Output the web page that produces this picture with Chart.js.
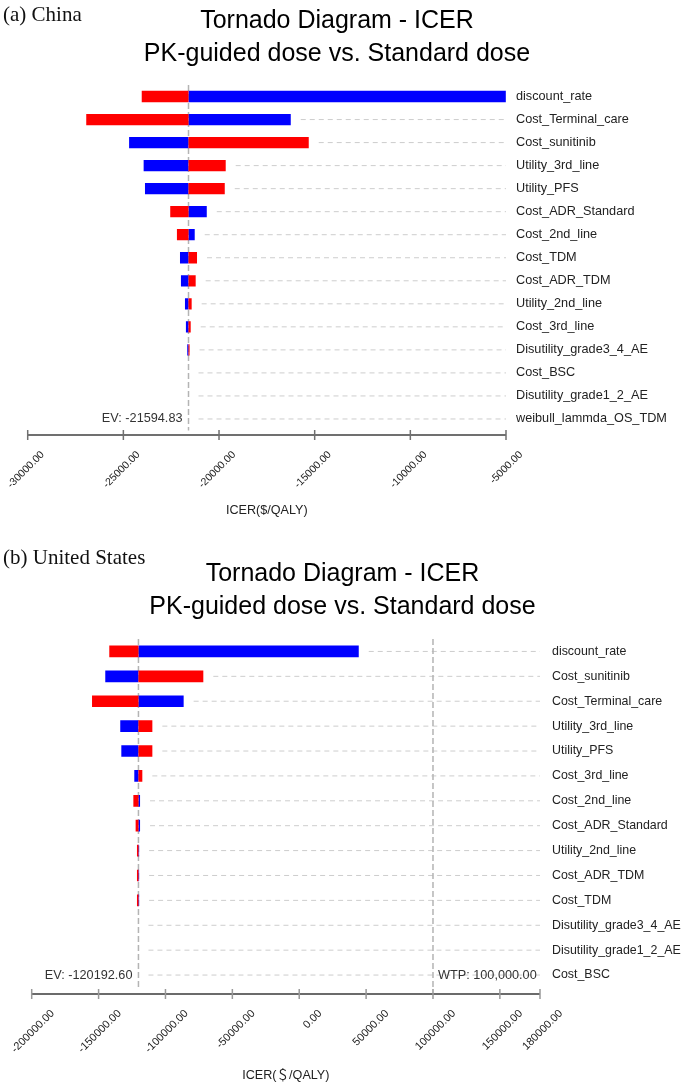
<!DOCTYPE html>
<html lang="en">
<head>
  <meta charset="UTF-8">
  <title>Tornado Diagram - ICER</title>
  <script src="https://cdn.jsdelivr.net/npm/chart.js"></script>
  <style>
    html, body {
      margin: 0;
      padding: 0;
      overflow: hidden;
      background: #fff;
    }
    .panel {
      position: relative;
      width: 689px;
      height: 543px;
    }
    .panel canvas {
      display: block;
    }
    .tag {
      position: absolute;
      left: 3px;
      top: 1px;
      font-family: "Liberation Serif", "Times New Roman", serif;
      font-size: 21px;
      line-height: 26px;
      color: #111;
    }
  </style>
</head>
<body>
  <div class="panel">
    <canvas id="chartChina" width="689" height="543"></canvas>
    <div class="tag">(a) China</div>
  </div>
  <div class="panel">
    <canvas id="chartUS" width="689" height="543"></canvas>
    <div class="tag">(b) United States</div>
  </div>

  <script>
    // (a) China : ICER at each end of the parameter range
    const cnParams = ["discount_rate", "Cost_Terminal_care", "Cost_sunitinib", "Utility_3rd_line", "Utility_PFS",
      "Cost_ADR_Standard", "Cost_2nd_line", "Cost_TDM", "Cost_ADR_TDM", "Utility_2nd_line", "Cost_3rd_line",
      "Disutility_grade3_4_AE", "Cost_BSC", "Disutility_grade1_2_AE", "weibull_lammda_OS_TDM"];
    const cnRed = [-24040, -26940, -15310, -19650, -19700, -22550, -22200, -21150, -21220, -21430, -21480,
      -21540, -21594.83, -21594.83, -21594.83];
    const cnBlue = [-5010, -16250, -24700, -23940, -23870, -20640, -21270, -22040, -21990, -21780, -21730,
      -21660, -21594.83, -21594.83, -21594.83];
    const cnEV = -21594.83;
    const cnTicks = [-30000, -25000, -20000, -15000, -10000, -5000];

    // (b) United States
    const usParams = ["discount_rate", "Cost_sunitinib", "Cost_Terminal_care", "Utility_3rd_line", "Utility_PFS",
      "Cost_3rd_line", "Cost_2nd_line", "Cost_ADR_Standard", "Utility_2nd_line", "Cost_ADR_TDM", "Cost_TDM",
      "Disutility_grade3_4_AE", "Disutility_grade1_2_AE", "Cost_BSC"];
    const usRed = [-142000, -71700, -154900, -109800, -109800, -117300, -124000, -122300, -121300, -121300,
      -121300, -120192.6, -120192.6, -120192.6];
    const usBlue = [44500, -145000, -86400, -133800, -133000, -123300, -119000, -119000, -119700, -119700,
      -119700, -120192.6, -120192.6, -120192.6];
    const usEV = -120192.60;
    const usWTP = 100000;
    const usTicks = [-200000, -150000, -100000, -50000, 0, 50000, 100000, 150000, 180000];

    const FONT = '"Liberation Sans", Arial, sans-serif';

    // dashed row guides, EV / WTP lines, axis line with crossing ticks, EV / WTP notes
    const tornadoLines = {
      id: "tornadoLines",
      beforeDatasetsDraw(chart, args, opts) {
        const { ctx, chartArea, scales: { x, y } } = chart;
        ctx.save();
        ctx.strokeStyle = "#cdcdcd";
        ctx.lineWidth = 1;
        ctx.setLineDash([5, 4]);
        opts.red.forEach((r, i) => {
          const x0 = x.getPixelForValue(Math.max(opts.ev, r, opts.blue[i])) + 10;
          const yy = y.getPixelForValue(i);
          if (x0 < chartArea.right) {
            ctx.beginPath();
            ctx.moveTo(x0, yy);
            ctx.lineTo(chartArea.right, yy);
            ctx.stroke();
          }
        });
        ctx.strokeStyle = "#b4b4b4";
        ctx.lineWidth = 1.5;
        ctx.setLineDash([6, 3]);
        opts.refs.forEach(v => {
          const px = x.getPixelForValue(v);
          ctx.beginPath();
          ctx.moveTo(px, chartArea.top);
          ctx.lineTo(px, chartArea.bottom);
          ctx.stroke();
        });
        ctx.restore();
      },
      afterDraw(chart, args, opts) {
        const { ctx, chartArea, scales: { x, y } } = chart;
        const ay = chartArea.bottom + opts.axisGap;
        ctx.save();
        ctx.strokeStyle = opts.axisColor;
        ctx.lineWidth = opts.axisWidth;
        ctx.beginPath();
        ctx.moveTo(x.left, ay);
        ctx.lineTo(x.right, ay);
        ctx.stroke();
        ctx.strokeStyle = opts.tickColor;
        ctx.lineWidth = 1.5;
        x.ticks.forEach(t => {
          const px = x.getPixelForValue(t.value);
          ctx.beginPath();
          ctx.moveTo(px, ay - 5);
          ctx.lineTo(px, ay + 5);
          ctx.stroke();
        });
        // notes sit on the last row
        const ly = y.getPixelForValue(y.ticks.length - 1);
        ctx.fillStyle = "#333";
        ctx.font = "12.7px " + FONT;
        ctx.textBaseline = "middle";
        opts.notes.forEach(n => {
          ctx.textAlign = n.side === "left" ? "right" : "left";
          const px = x.getPixelForValue(n.value);
          ctx.fillText(n.text, n.side === "left" ? px - 6 : px + 5, ly);
        });
        ctx.restore();
      }
    };

    function tornado(id, s) {
      const base = s.ev;
      new Chart(document.getElementById(id), {
        type: "bar",
        data: {
          labels: s.params,
          datasets: [
            { data: s.red.map(v => [base, v]), backgroundColor: "#ff0000" },
            { data: s.blue.map(v => [base, v]), backgroundColor: "#0000ff" }
          ]
        },
        plugins: [tornadoLines],
        options: {
          indexAxis: "y",
          responsive: false,
          animation: false,
          datasets: {
            bar: { grouped: false, categoryPercentage: 1, barPercentage: s.barPct, borderWidth: 0 }
          },
          layout: { padding: { left: 0, right: s.padRight, top: 0, bottom: 0 } },
          scales: {
            x: {
              type: "linear",
              min: s.ticks[0],
              max: s.ticks[s.ticks.length - 1],
              afterBuildTicks: sc => { sc.ticks = s.ticks.map(v => ({ value: v })); },
              afterFit: sc => {
                sc.paddingLeft = s.left;
                sc.paddingRight = 0;
                sc.height = s.xHeight;
              },
              grid: { display: false, drawTicks: false },
              border: { display: false },
              ticks: {
                minRotation: 45,
                maxRotation: 45,
                autoSkip: false,
                padding: s.tickPad,
                labelOffset: s.labelOffset,
                color: "#222",
                font: { family: FONT, size: s.tickSize },
                callback: v => Number(v).toFixed(2)
              },
              title: {
                display: true,
                text: s.xTitle,
                color: "#222",
                font: { family: FONT + ', "Noto Sans CJK SC"', size: 12.6 },
                padding: { top: 4, bottom: s.xTitlePad }
              }
            },
            y: {
              position: "right",
              afterFit: sc => { sc.width = s.yWidth; },
              grid: { display: false, drawTicks: false },
              border: { display: false },
              ticks: {
                padding: s.yPad,
                color: "#222",
                font: { family: FONT, size: s.labelSize }
              }
            }
          },
          plugins: {
            legend: { display: false },
            tooltip: { enabled: false },
            title: {
              display: true,
              text: ["Tornado Diagram - ICER", "PK-guided dose vs. Standard dose"],
              color: "#000",
              font: { family: FONT, size: 25, weight: "normal", lineHeight: 1.3 },
              padding: s.titlePad
            },
            tornadoLines: {
              ev: s.ev,
              red: s.red,
              blue: s.blue,
              refs: s.refs,
              notes: s.notes,
              axisGap: s.axisGap,
              axisColor: s.axisColor,
              axisWidth: s.axisWidth,
              tickColor: s.tickColor
            }
          }
        }
      });
    }

    tornado("chartChina", {
      params: cnParams, red: cnRed, blue: cnBlue, ev: cnEV, ticks: cnTicks,
      refs: [cnEV],
      notes: [{ text: "EV: " + cnEV.toFixed(2), value: cnEV, side: "left" }],
      xTitle: "ICER($/QALY)",
      barPct: 0.49, padRight: 15, left: 27.7, xHeight: 112.5, yWidth: 168, yPad: 10,
      tickPad: 18, labelOffset: 15, tickSize: 10.5, labelSize: 12.7, xTitlePad: 25.4,
      titlePad: { top: 5, bottom: 15 },
      axisGap: 4.5, axisColor: "#707070", axisWidth: 2, tickColor: "#707070"
    });

    tornado("chartUS", {
      params: usParams, red: usRed, blue: usBlue, ev: usEV, ticks: usTicks,
      refs: [usEV, usWTP],
      notes: [
        { text: "EV: " + usEV.toFixed(2), value: usEV, side: "left" },
        { text: "WTP: 100,000.00", value: usWTP, side: "right" }
      ],
      xTitle: "ICER(＄/QALY)",
      barPct: 0.47, padRight: 4, left: 31.7, xHeight: 98.5, yWidth: 145, yPad: 12,
      tickPad: 19.5, labelOffset: 21, tickSize: 11, labelSize: 12.4, xTitlePad: 3.4,
      titlePad: { top: 15, bottom: 16 },
      axisGap: 6.5, axisColor: "#3a3a3a", axisWidth: 1.5, tickColor: "#999"
    });
  </script>
</body>
</html>
